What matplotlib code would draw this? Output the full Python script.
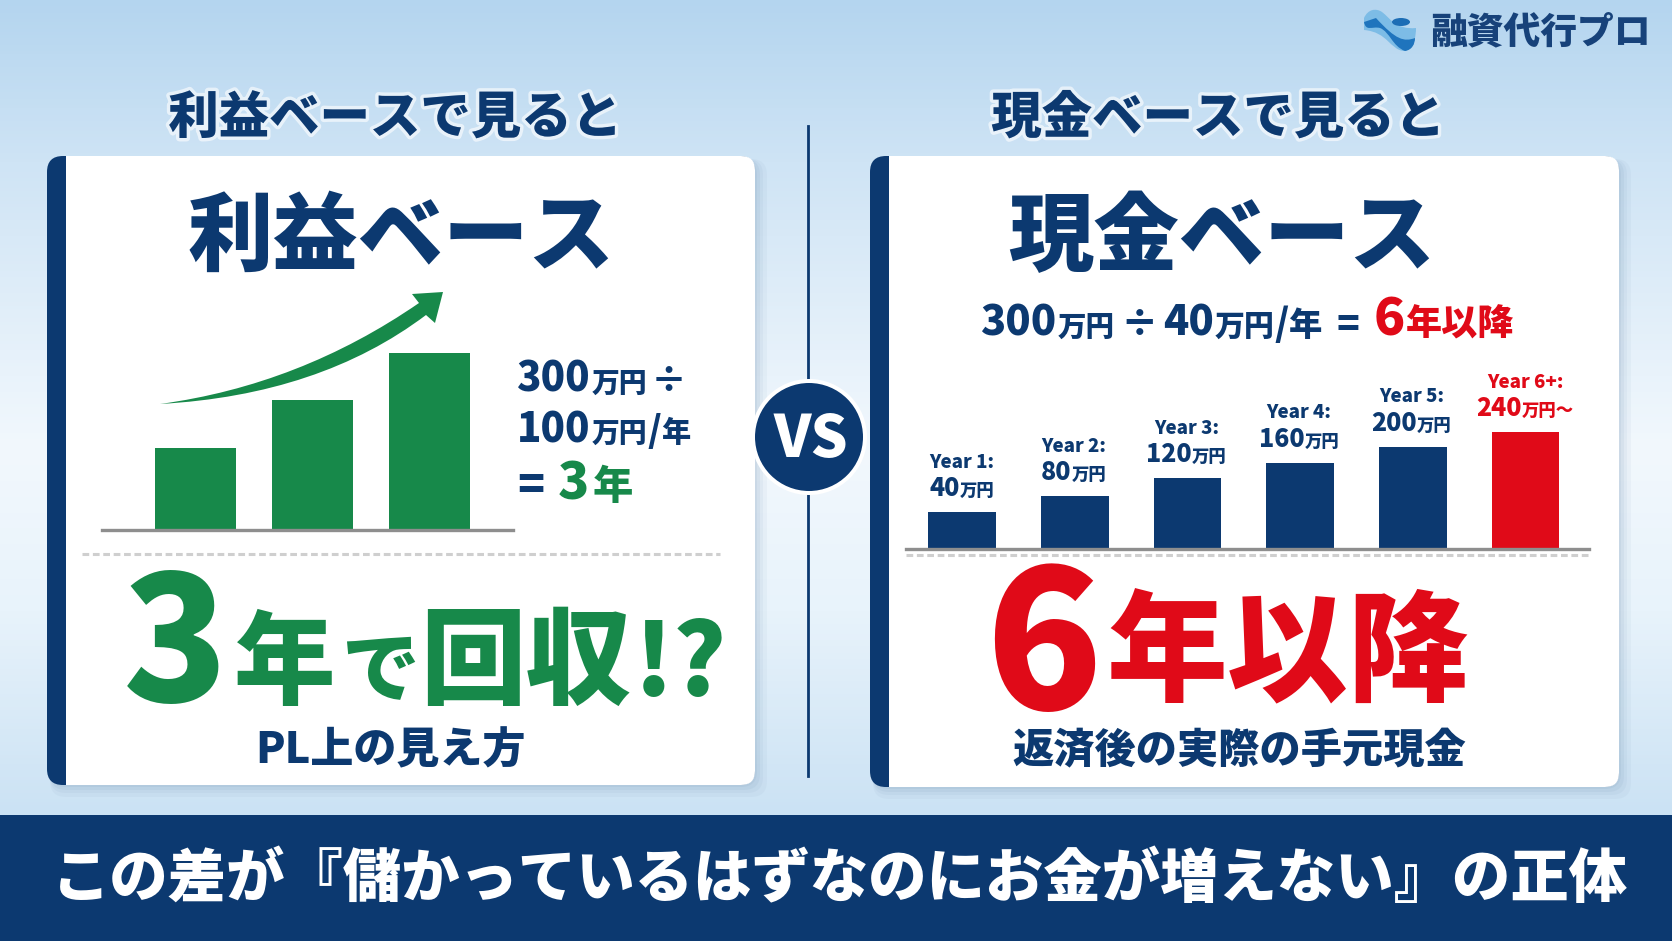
import numpy as np
import matplotlib

matplotlib.use("Agg")
import matplotlib.pyplot as plt
import matplotlib.patheffects as pe
from matplotlib.patches import FancyBboxPatch, Rectangle, Circle, Ellipse, PathPatch
from matplotlib.path import Path
from matplotlib.colors import LinearSegmentedColormap

plt.rcParams["font.family"] = ["Noto Sans CJK JP", "DejaVu Sans"]

W, H = 1672, 941
NAVY = "#0c3970"
GREEN = "#17894a"
RED = "#e00a18"
GRAY = "#8e8e8e"

# bars (heights above the base line, chart px)
left_heights = [82, 130, 177]
right_heights = [37, 53, 71, 86, 102, 117]
right_years = ["Year 1:", "Year 2:", "Year 3:", "Year 4:", "Year 5:", "Year 6+:"]
right_amounts = ["40", "80", "120", "160", "200", "240"]
right_colors = [NAVY, NAVY, NAVY, NAVY, NAVY, RED]

banner_text = "この差が『儲かっているはずなのにお金が増えない』の正体"

fig = plt.figure(figsize=(W / 100, H / 100), dpi=100)
bg = fig.add_axes([0, 0, 1, 1], zorder=0)
bg.axis("off")

cmap = LinearSegmentedColormap.from_list(
    "sky",
    [(0, "#b4d5ef"), (0.2, "#cfe4f5"), (0.55, "#f2f8fd"), (0.75, "#e8f3fb"), (1, "#cbe2f4")],
)
bg.imshow(
    np.linspace(0, 1, 256).reshape(-1, 1),
    cmap=cmap,
    extent=(0, W, 815, 0),
    aspect="auto",
    zorder=0,
)
bg.set_xlim(0, W)
bg.set_ylim(H, 0)
renderer = fig.canvas.get_renderer()


def runs(x, y, parts, center=False, z=5):
    # parts: text, size, colour, optional gap after, optional baseline shift
    made = []
    cur = x
    for p in parts:
        txt, size, col = p[:3]
        gap = p[3] if len(p) > 3 else 0
        dy = p[4] if len(p) > 4 else 0
        t = bg.text(cur, y + dy, txt, fontsize=size, color=col, fontweight="black",
                    ha="left", va="baseline", zorder=z)
        w = t.get_window_extent(renderer).width
        made.append(t)
        cur += w + gap
    if center:
        shift = (cur - x) / 2
        for t in made:
            t.set_x(t.get_position()[0] - shift)
    return made


def card(x0, x1, y0, y1):
    for i, a in zip([12, 8, 5, 2], [0.05, 0.06, 0.07, 0.08]):
        bg.add_patch(FancyBboxPatch((x0 + 3, y0 + 3), x1 - x0 + i - 3, y1 - y0 + i - 3,
                                    boxstyle="round,pad=0,rounding_size=16",
                                    fc="#5b7fa3", ec="none", alpha=a, zorder=1))
    bg.add_patch(FancyBboxPatch((x0, y0), x1 - x0, y1 - y0,
                                boxstyle="round,pad=0,rounding_size=16",
                                fc=NAVY, ec="none", zorder=2))
    bg.add_patch(FancyBboxPatch((x0 + 19, y0), x1 - x0 - 19, y1 - y0,
                                boxstyle="round,pad=0,rounding_size=14",
                                fc="white", ec="none", zorder=3))
    bg.add_patch(Rectangle((x0 + 19, y0), 30, y1 - y0, fc="white", ec="none", zorder=3))


card(47, 755, 156, 785)
card(870, 1619, 156, 787)

# centre divider and VS badge
bg.plot([808, 808], [126, 776], color=NAVY, lw=2, zorder=1.5)
bg.add_patch(Circle((809, 437), 58, fc="white", ec="none", zorder=6))
bg.add_patch(Circle((809, 437), 54, fc=NAVY, ec="none", zorder=7))
bg.text(811, 440, "VS", fontsize=42, color="white", fontweight="black",
        ha="center", va="center", zorder=8)

# section headings
halo = [pe.withStroke(linewidth=5, foreground="#ffffff", alpha=0.6)]
for cx, s in [(395, "利益ベースで見ると"), (1218, "現金ベースで見ると")]:
    bg.text(cx, 118, s, fontsize=36.3, color=NAVY, fontweight="black", ha="center",
            va="center", zorder=5, path_effects=halo)
bg.text(401, 239, "利益ベース", fontsize=61.5, color=NAVY, fontweight="black",
        ha="center", va="center", zorder=5)
bg.text(1222, 239, "現金ベース", fontsize=61.5, color=NAVY, fontweight="black",
        ha="center", va="center", zorder=5)

# left formula
runs(517, 392, [("300", 29, NAVY, 1), ("万円", 20, NAVY, 3), ("÷", 26, NAVY)])
runs(517, 442, [("100", 29, NAVY, 1), ("万円", 20, NAVY, 0), ("/", 26, NAVY, 0), ("年", 21, NAVY)])
runs(517, 499, [("=", 32, NAVY, 14), ("3", 37, GREEN, 3), ("年", 29, GREEN)])

# right formula
runs(980, 336, [("300", 30, NAVY, 1), ("万円", 20.5, NAVY, 6), ("÷", 27, NAVY, 5),
                ("40", 30, NAVY, 1), ("万円", 21.5, NAVY, 0), ("/", 27, NAVY, 0),
                ("年", 24, NAVY, 14), ("=", 27, NAVY, 14), ("6", 37, RED, 2), ("年以降", 26, RED)])


def bar_axes(x0, x1, ytop, ybase, xlim, ymax):
    ax = fig.add_axes([x0 / W, 1 - ybase / H, (x1 - x0) / W, (ybase - ytop) / H], zorder=2)
    ax.patch.set_alpha(0)
    ax.set_xlim(*xlim)
    ax.set_ylim(0, ymax)
    for s in ["top", "left", "right"]:
        ax.spines[s].set_visible(False)
    ax.spines["bottom"].set_color(GRAY)
    ax.spines["bottom"].set_linewidth(2.4)
    ax.set_xticks([])
    ax.set_yticks([])
    return ax


ax_l = bar_axes(102, 513, 330, 530, (-0.80, 2.71), 200)
ax_l.bar(range(len(left_heights)), left_heights, width=0.69, color=GREEN)

ax_r = bar_axes(906, 1589, 399, 549, (-0.497, 5.563), 150)
ax_r.bar(range(len(right_heights)), right_heights, width=0.6, color=right_colors)

# labels over the right bars
for i, h in enumerate(right_heights):
    cx = 962 + 112.7 * i - (1 if 0 < i < 5 else 0)
    top = 549 - h
    col = right_colors[i]
    bg.text(cx, top - 50, right_years[i], fontsize=13.5, color=col, fontweight="black",
            ha="center", va="center", zorder=5)
    tail = "万円〜" if i == 5 else "万円"
    runs(cx, top - 16, [(right_amounts[i], 18, col, 0), (tail, 12.5, col)], center=True)

# growth arrow
arrow = Path(
    [(160, 404), (300, 385), (419, 303), (412, 294), (443, 292), (435, 323), (426, 315),
     (320, 395), (160, 404), (160, 404)],
    [Path.MOVETO, Path.CURVE3, Path.CURVE3, Path.LINETO, Path.LINETO, Path.LINETO,
     Path.LINETO, Path.CURVE3, Path.CURVE3, Path.CLOSEPOLY],
)
bg.add_patch(PathPatch(arrow, fc=GREEN, ec="none", zorder=5))

# dashed separators
bg.plot([82, 720], [554, 554], color="#cfcfcf", lw=2.2, ls=(0, (2.2, 1.2)), zorder=5)
bg.plot([906, 1589], [555, 555], color="#cfcfcf", lw=2.2, ls=(0, (2.2, 1.2)), zorder=5)

# big results
runs(123, 696, [("3", 124, GREEN, 6, 6), ("年", 73, GREEN, 7), ("で", 56, GREEN, 0),
                ("回収", 76, GREEN, 3), ("!?", 72, GREEN)])
runs(985, 692, [("6", 138, RED, 5, 17), ("年以降", 87, RED)])

bg.text(390, 751, "PL上の見え方", fontsize=31, color=NAVY, fontweight="black",
        ha="center", va="center", zorder=5)
bg.text(1239, 751, "返済後の実際の手元現金", fontsize=29.7, color=NAVY, fontweight="black",
        ha="center", va="center", zorder=5)

# banner
bg.add_patch(Rectangle((0, 815), W, H - 815, fc=NAVY, ec="none", zorder=4))
bg.text(840, 880, banner_text, fontsize=42, color="white", fontweight="black",
        ha="center", va="center", zorder=5)

# logo
curve_codes = [Path.MOVETO] + [Path.CURVE4] * 12 + [Path.CLOSEPOLY]
logo_light = Path(
    [(1364, 18), (1368, 9), (1376, 8), (1382, 12), (1390, 18), (1396, 30), (1416, 28),
     (1416, 36), (1414, 50), (1404, 51), (1390, 50), (1388, 32), (1364, 30), (1364, 18)],
    curve_codes,
)
logo_mid = Path(
    [(1364, 22), (1366, 32), (1372, 26), (1380, 28), (1390, 32), (1392, 46), (1405, 51),
     (1412, 50), (1415, 44), (1415, 38), (1404, 42), (1396, 40), (1376, 18), (1364, 22)],
    curve_codes,
)
bg.add_patch(PathPatch(logo_light, fc="#7dbce6", ec="none", zorder=5))
bg.add_patch(PathPatch(logo_mid, fc="#1f74bd", ec="none", zorder=6))
bg.add_patch(Ellipse((1401, 22), 18, 8, fc="#1c6db5", ec="none", zorder=6))
bg.text(1540, 32, "融資代行プロ", fontsize=26.5, color="#17427a", fontweight="black",
        ha="center", va="center", zorder=5)

fig.savefig("out.png", dpi=100)
plt.close(fig)
